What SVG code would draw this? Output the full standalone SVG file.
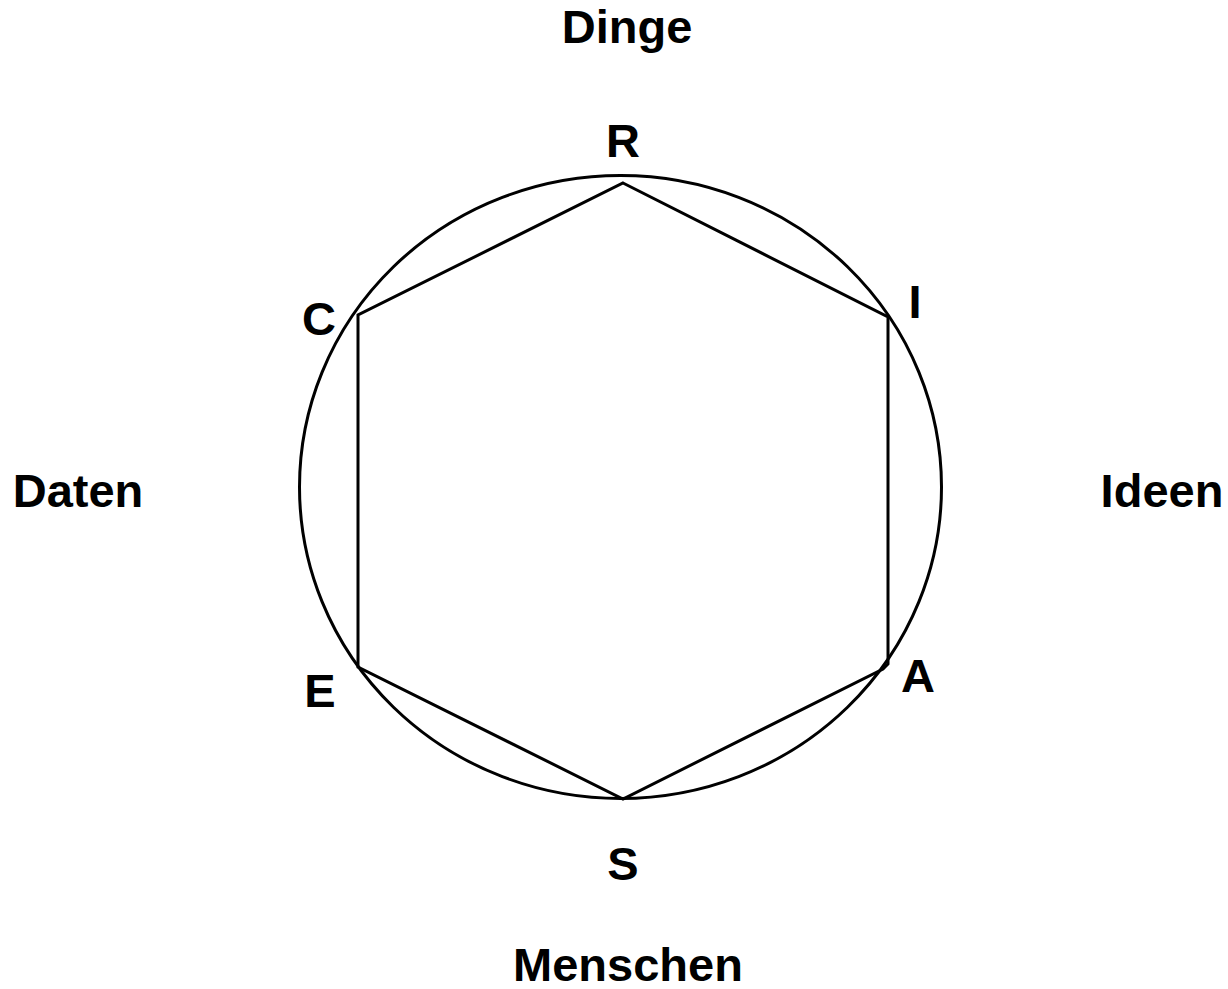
<svg xmlns="http://www.w3.org/2000/svg" width="1228" height="989" viewBox="0 0 1228 989">
<style>
.lbl{font-family:"Liberation Sans",Arial,sans-serif;font-weight:bold;fill:#000;text-anchor:middle}
.w{font-size:47px}
.l{font-size:47px}
.ln{fill:none;stroke:#000;stroke-width:3;stroke-linejoin:miter}
</style>
<rect width="1228" height="989" fill="#fff"/>
<g id="circle"><ellipse class="ln" cx="620.5" cy="487" rx="321" ry="311.5"/></g>
<g id="connectors">
<path class="ln" d="M623,183 L888,317 L888,664 L883,669 L623,799 L358,667 L358,315 Z"/>
</g>
<g id="node-R"><text class="lbl l" x="623" y="157">R</text></g>
<g id="node-I"><text class="lbl l" x="915" y="318">I</text></g>
<g id="node-A"><text class="lbl l" x="918" y="692">A</text></g>
<g id="node-S"><text class="lbl l" x="623" y="880">S</text></g>
<g id="node-E"><text class="lbl l" x="320" y="707">E</text></g>
<g id="node-C"><text class="lbl l" x="319" y="335">C</text></g>
<g id="label-Dinge"><text class="lbl w" x="627" y="43">Dinge</text></g>
<g id="label-Menschen"><text class="lbl w" x="628" y="981">Menschen</text></g>
<g id="label-Daten"><text class="lbl w" x="78" y="507">Daten</text></g>
<g id="label-Ideen"><text class="lbl w" x="1162" y="507">Ideen</text></g>
</svg>
